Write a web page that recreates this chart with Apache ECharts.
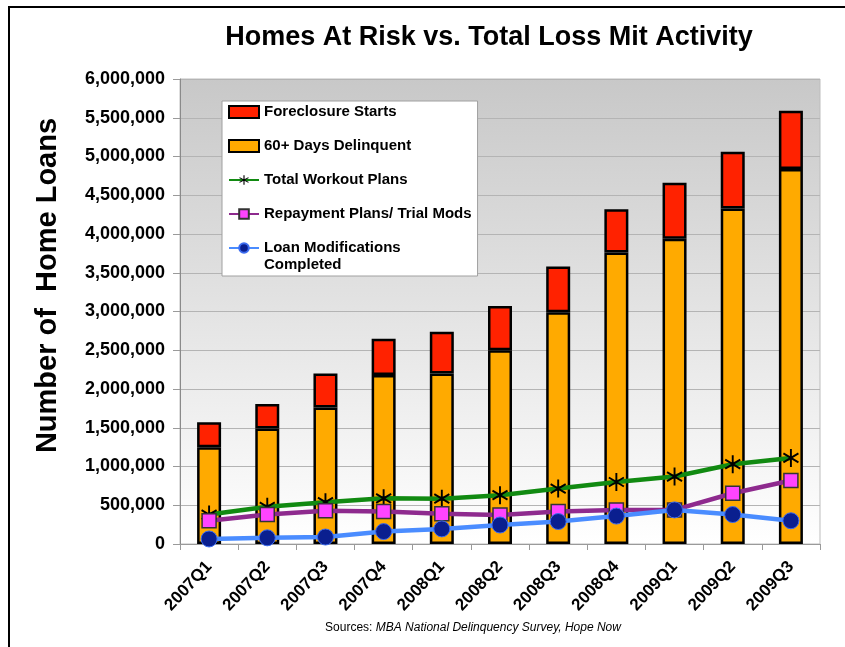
<!DOCTYPE html>
<html>
<head>
<meta charset="utf-8">
<script src="https://cdn.jsdelivr.net/npm/echarts@6/dist/echarts.min.js"></script>
<style>
  html, body { margin: 0; padding: 0; background: #fff; }
  #chart { width: 845px; height: 647px; }
</style>
</head>
<body>
<div id="chart"></div>
<script>
// quarters on the x axis
const categories = ["2007Q1", "2007Q2", "2007Q3", "2007Q4", "2008Q1", "2008Q2",
  "2008Q3", "2008Q4", "2009Q1", "2009Q2", "2009Q3"];

// stacked bars
const delinquent = [1250000, 1490000, 1760000, 2180000, 2200000, 2500000, 2990000, 3760000, 3940000, 4330000, 4840000];
const foreclosure = [320000, 315000, 440000, 470000, 540000, 570000, 590000, 560000, 720000, 730000, 750000];

// lines
const workout = [380000, 480000, 540000, 590000, 585000, 630000, 715000, 800000, 870000, 1030000, 1110000];
const repayment = [300000, 380000, 430000, 420000, 390000, 375000, 420000, 440000, 440000, 655000, 820000];
const loanMods = [65000, 80000, 90000, 160000, 195000, 245000, 290000, 360000, 440000, 380000, 300000];

const font = "Arial, 'Liberation Sans', sans-serif";
const loanName = "Loan Modifications Completed";

// asterisk marker (three filled thin bars, same winding)
const starPath = "path://M-1.1,-10L1.1,-10L1.1,10L-1.1,10Z" +
  "M-9.21,-4.05L-8.11,-5.95L9.21,4.05L8.11,5.95Z" +
  "M8.11,-5.95L9.21,-4.05L-8.11,5.95L-9.21,4.05Z";

const chart = echarts.init(document.getElementById("chart"));

chart.setOption({
  animation: false,
  backgroundColor: "#fff",
  title: {
    text: "Homes At Risk vs. Total Loss Mit Activity",
    left: 484,
    top: 19,
    textAlign: "center",
    textStyle: { fontFamily: font, fontSize: 27, fontWeight: "bold", color: "#000" }
  },
  grid: {
    left: 180,
    right: 25,
    top: 79,
    bottom: 103,
    show: true,
    borderColor: "#bdbdbd",
    borderWidth: 1,
    backgroundColor: {
      type: "linear", x: 0, y: 0, x2: 0, y2: 1,
      colorStops: [{ offset: 0, color: "#c8c8c8" }, { offset: 1, color: "#ffffff" }]
    }
  },
  legend: {
    orient: "vertical",
    left: 222,
    top: 101,
    padding: [3, 6, 20, 6],
    backgroundColor: "#fff",
    borderColor: "#a0a0a0",
    borderWidth: 1,
    itemWidth: 30,
    itemHeight: 12,
    itemGap: 18,
    textStyle: { fontFamily: font, fontSize: 15, fontWeight: "bold", color: "#000", lineHeight: 16 },
    formatter: name => (name === loanName ? "Loan Modifications" : name),
    data: [
      { name: "Foreclosure Starts", icon: "rect" },
      { name: "60+ Days Delinquent", icon: "rect" },
      { name: "Total Workout Plans" },
      { name: "Repayment Plans/ Trial Mods" },
      { name: loanName }
    ]
  },
  xAxis: {
    type: "category",
    data: categories,
    axisLine: { lineStyle: { color: "#9a9a9a", width: 1 } },
    axisTick: { show: true, alignWithLabel: false, length: 6, lineStyle: { color: "#9a9a9a" } },
    axisLabel: {
      rotate: 47,
      margin: 20,
      fontFamily: font,
      fontSize: 17,
      fontWeight: "bold",
      color: "#000"
    }
  },
  yAxis: {
    type: "value",
    min: 0,
    max: 6000000,
    interval: 500000,
    name: "Number of  Home Loans",
    nameLocation: "middle",
    nameRotate: 90,
    nameGap: 118,
    nameTextStyle: { fontFamily: font, fontSize: 29, fontWeight: "bold", color: "#000", padding: [0, 0, 0, 52] },
    axisLine: { show: true, lineStyle: { color: "#8a8a8a", width: 1 } },
    axisTick: { show: true, length: 7, lineStyle: { color: "#9a9a9a" } },
    axisLabel: {
      margin: 15,
      fontFamily: font,
      fontSize: 18,
      fontWeight: "bold",
      color: "#000",
      formatter: v => v.toLocaleString("en-US")
    },
    splitLine: { lineStyle: { color: "#b4b4b4", width: 1 } }
  },
  series: [
    {
      name: "60+ Days Delinquent",
      type: "bar",
      stack: "risk",
      barWidth: 24,
      data: delinquent,
      itemStyle: { color: "#ffaa00", borderColor: "#000", borderWidth: 2.5 }
    },
    {
      name: "Foreclosure Starts",
      type: "bar",
      stack: "risk",
      barWidth: 24,
      data: foreclosure,
      itemStyle: { color: "#ff2200", borderColor: "#000", borderWidth: 2.5 }
    },
    {
      name: "Total Workout Plans",
      type: "line",
      data: workout,
      symbol: starPath,
      symbolSize: [16, 18],
      lineStyle: { color: "#118a11", width: 4.5 },
      itemStyle: { color: "#000" }
    },
    {
      name: "Repayment Plans/ Trial Mods",
      type: "line",
      data: repayment,
      symbol: "rect",
      symbolSize: 14,
      lineStyle: { color: "#8e2a8e", width: 4.5 },
      itemStyle: { color: "#ff44ff", borderColor: "#333", borderWidth: 1.5 }
    },
    {
      name: loanName,
      type: "line",
      data: loanMods,
      symbol: "circle",
      symbolSize: 16,
      lineStyle: { color: "#4a8cff", width: 4.5 },
      itemStyle: { color: "#0a1f8f", borderColor: "#3c6cf0", borderWidth: 1 }
    }
  ],
  graphic: [
    {
      type: "polyline",
      z: 100,
      shape: { points: [[9, 647], [9, 7], [845, 7]] },
      style: { stroke: "#000", lineWidth: 2, fill: null }
    },
    {
      // second line of the last legend entry
      type: "text",
      z: 100,
      x: 264,
      y: 265,
      style: {
        text: "Completed",
        verticalAlign: "middle",
        fontFamily: font,
        fontSize: 15,
        fontWeight: "bold",
        fill: "#000"
      }
    },
    {
      type: "text",
      z: 100,
      x: 473,
      y: 628,
      style: {
        text: "{n|Sources: }{i|MBA National Delinquency Survey, Hope Now}",
        align: "center",
        verticalAlign: "middle",
        rich: {
          n: { fontFamily: font, fontSize: 12, fill: "#000" },
          i: { fontFamily: font, fontSize: 12, fontStyle: "italic", fill: "#000" }
        }
      }
    }
  ]
});
</script>
</body>
</html>
